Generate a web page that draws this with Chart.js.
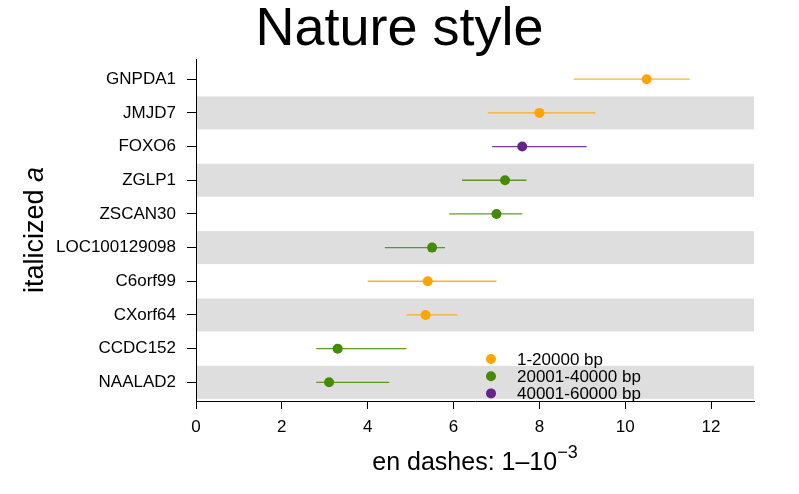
<html><head>
<meta charset="UTF-8">
<title>Nature style</title>
<script src="https://cdn.jsdelivr.net/npm/chart.js"></script>
<style>
body {
  margin: 0;
  background: #ffffff;
}
#wrap {
  width: 799px;
  height: 494px;
}
</style>
</head>
<body>
<div id="wrap"><canvas id="chart"></canvas></div>

<script>
// data
const genes = ['GNPDA1', 'JMJD7', 'FOXO6', 'ZGLP1', 'ZSCAN30', 'LOC100129098', 'C6orf99', 'CXorf64', 'CCDC152', 'NAALAD2'];
const estimate = [10.5, 8.0, 7.6, 7.2, 7.0, 5.5, 5.4, 5.35, 3.3, 3.1];
const lower = [8.8, 6.8, 6.9, 6.2, 5.9, 4.4, 4.0, 4.9, 2.8, 2.8];
const upper = [11.5, 9.3, 9.1, 7.7, 7.6, 5.8, 7.0, 6.1, 4.9, 4.5];
const group = [0, 0, 2, 1, 1, 1, 0, 0, 1, 1];
const groupLabels = ['1-20000 bp', '20001-40000 bp', '40001-60000 bp'];
const groupColors = ['#FFA500', '#458B00', '#68228B'];
const barColors = ['rgba(255,165,0,0.85)', 'rgba(69,139,0,0.85)', 'rgba(104,34,139,0.9)'];
const xTicks = [0, 2, 4, 6, 8, 10, 12];

const FONT = '"Liberation Sans", Arial, Helvetica, sans-serif';
Chart.defaults.font.family = FONT;
Chart.defaults.color = '#000';

const datasets = [];

// horizontal interval lines, one per gene
genes.forEach((g, i) => {
  datasets.push({
    label: g + ' interval',
    data: [{ x: lower[i], y: i + 1 }, { x: upper[i], y: i + 1 }],
    showLine: true,
    borderColor: barColors[group[i]],
    borderWidth: 1.3,
    pointRadius: 0,
    pointHoverRadius: 0
  });
});

// point estimates, one dataset per size group
groupLabels.forEach((lab, k) => {
  const pts = [];
  genes.forEach((g, i) => {
    if (group[i] === k) pts.push({ x: estimate[i], y: i + 1 });
  });
  datasets.push({
    label: lab,
    data: pts,
    backgroundColor: groupColors[k],
    borderWidth: 0,
    pointRadius: 5,
    pointHoverRadius: 5
  });
});

const decor = {
  id: 'decor',
  beforeDraw(chart) {
    const { ctx, chartArea, scales } = chart;
    ctx.save();
    ctx.fillStyle = '#DEDEDE';
    for (let i = 1; i < genes.length; i += 2) {
      const y0 = scales.y.getPixelForValue(i + 1 - 0.49);
      const y1 = scales.y.getPixelForValue(i + 1 + 0.49);
      ctx.fillRect(chartArea.left + 1, y0, chartArea.right - chartArea.left - 1, y1 - y0);
    }
    ctx.restore();
  },
  afterDraw(chart) {
    const { ctx, chartArea } = chart;
    ctx.save();
    ctx.fillStyle = '#000';

    // main title
    ctx.font = '54px ' + FONT;
    ctx.textAlign = 'center';
    ctx.textBaseline = 'alphabetic';
    ctx.fillText('Nature style', chart.width / 2, 45);

    // x title with superscript
    const main = 'en dashes: 1\u201310';
    const sup = '\u22123';
    ctx.font = '25px ' + FONT;
    const w1 = ctx.measureText(main).width;
    ctx.font = '18px ' + FONT;
    const w2 = ctx.measureText(sup).width;
    let x0 = (chartArea.left + chartArea.right) / 2 - (w1 + w2) / 2;
    ctx.textAlign = 'left';
    ctx.font = '25px ' + FONT;
    ctx.fillText(main, x0, 470);
    ctx.font = '18px ' + FONT;
    ctx.fillText(sup, x0 + w1, 458);

    // y title, last letter italic
    ctx.translate(43, (chartArea.top + chartArea.bottom) / 2);
    ctx.rotate(-Math.PI / 2);
    ctx.font = '27px ' + FONT;
    const t1 = 'italicized ';
    const a1 = ctx.measureText(t1).width;
    ctx.font = 'italic 27px ' + FONT;
    const a2 = ctx.measureText('a').width;
    ctx.font = '27px ' + FONT;
    ctx.fillText(t1, -(a1 + a2) / 2, 0);
    ctx.font = 'italic 27px ' + FONT;
    ctx.fillText('a', -(a1 + a2) / 2 + a1, 0);
    ctx.restore();

    // legend inside the panel
    ctx.save();
    ctx.font = '17px ' + FONT;
    ctx.textBaseline = 'middle';
    ctx.textAlign = 'left';
    groupLabels.forEach((lab, k) => {
      const ly = 359 + k * 17.2;
      ctx.fillStyle = groupColors[k];
      ctx.beginPath();
      ctx.arc(491, ly, 5, 0, Math.PI * 2);
      ctx.fill();
      ctx.fillStyle = '#000';
      ctx.fillText(lab, 517, ly + 1);
    });
    ctx.restore();
  }
};

new Chart(document.getElementById('chart'), {
  type: 'scatter',
  data: { datasets: datasets },
  options: {
    responsive: true,
    maintainAspectRatio: false,
    animation: false,
    events: [],
    layout: { padding: { top: 59, right: 45, left: 0, bottom: 0 } },
    plugins: {
      legend: { display: false },
      title: { display: false },
      tooltip: { enabled: false }
    },
    scales: {
      x: {
        type: 'linear',
        min: 0,
        max: 13,
        afterBuildTicks: (scale) => { scale.ticks = xTicks.map(v => ({ value: v })); },
        afterFit: (scale) => { scale.height = 93; },
        ticks: { font: { size: 17 }, color: '#000', padding: 8, maxRotation: 0 },
        grid: { drawOnChartArea: false, drawTicks: true, tickLength: 8, color: '#000', lineWidth: 1 },
        border: { display: true, color: '#000', width: 1 }
      },
      y: {
        type: 'linear',
        reverse: true,
        min: 0.4,
        max: 10.555,
        afterBuildTicks: (scale) => { scale.ticks = genes.map((g, i) => ({ value: i + 1 })); },
        afterFit: (scale) => { scale.width = 196; },
        ticks: {
          font: { size: 17 },
          color: '#000',
          padding: 11,
          callback: (v) => genes[v - 1]
        },
        grid: { drawOnChartArea: false, drawTicks: true, tickLength: 9, color: '#000', lineWidth: 1 },
        border: { display: true, color: '#000', width: 1 }
      }
    }
  },
  plugins: [decor]
});
</script>
</body></html>
